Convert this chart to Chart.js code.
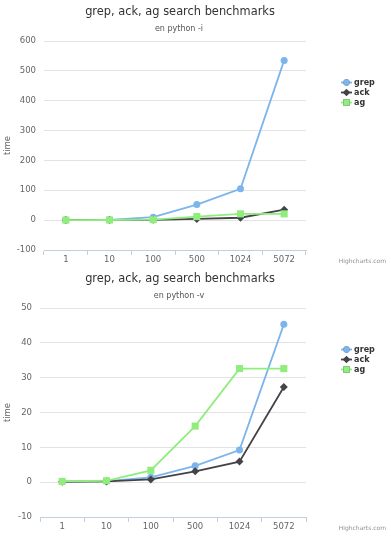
<!DOCTYPE html>
<html>
<head>
<meta charset="utf-8">
<script src="https://cdn.jsdelivr.net/npm/chart.js@4/dist/chart.umd.min.js"></script>
<style>
  html, body { margin: 0; padding: 0; background: #fff; }
  #wrap { position: relative; width: 391px; height: 538px; overflow: hidden; }
  .box { position: absolute; left: 0; width: 391px; }
</style>
</head>
<body>
<div id="wrap">
  <div class="box" style="top:0;height:267px"><canvas id="c1"></canvas></div>
  <div class="box" style="top:267px;height:271px"><canvas id="c2"></canvas></div>
</div>
<script>
// ---- data ----
const categories = ['1', '10', '100', '500', '1024', '5072'];
const seriesNames = ['grep', 'ack', 'ag'];

const titleText = 'grep, ack, ag search benchmarks';
const subtitleI = 'en python -i';
const subtitleV = 'en python -v';

const grepI = [0.5, 1, 10, 52, 105, 535];
const ackI  = [0.3, 0.5, 1, 4, 8, 35];
const agI   = [0.3, 0.5, 1.5, 12, 21, 21];
const yRangeI = [-100, 600, 100];

const grepV = [0.2, 0.3, 1.4, 4.7, 9.2, 45.3];
const ackV  = [0.1, 0.2, 0.8, 3.1, 5.9, 27.3];
const agV   = [0.2, 0.4, 3.4, 16.1, 32.6, 32.6];
const yRangeV = [-10, 50, 10];

// ---- styles ----
const FONT = '"DejaVu Sans", "Lucida Grande", sans-serif';
const colors = ['#7cb5ec', '#434348', '#90ed7d'];
const pointStyles = ['circle', 'rectRot', 'rect'];
const pointRadii = [3.5, 4, 5];

const headerPlugin = {
  id: 'header',
  afterDraw(chart, args, opts) {
    const ctx = chart.ctx;
    ctx.save();
    ctx.textAlign = 'center';
    ctx.textBaseline = 'middle';
    ctx.fillStyle = '#333333';
    ctx.font = '11.4px ' + FONT;
    ctx.fillText(opts.title, 180, 12);
    ctx.fillStyle = '#555555';
    ctx.font = '8px ' + FONT;
    ctx.fillText(opts.subtitle, 179, 28.5);
    // legend
    chart.data.datasets.forEach((ds, i) => {
      const y = 82.5 + i * 10;
      ctx.strokeStyle = ds.borderColor;
      ctx.lineWidth = 1.8;
      ctx.beginPath();
      ctx.moveTo(341, y);
      ctx.lineTo(352, y);
      ctx.stroke();
      Chart.helpers.drawPoint(ctx, {
        pointStyle: ds.pointStyle,
        radius: ds.pointRadius * 0.9,
        borderWidth: 0,
        rotation: 0
      }, 346.5, y);
      ctx.fillStyle = ds.borderColor;
      ctx.fill();
      ctx.fillStyle = '#333333';
      ctx.font = 'bold 8px ' + FONT;
      ctx.textAlign = 'left';
      ctx.fillText(ds.label, 354, y + 0.5);
    });
    // credit
    ctx.textAlign = 'right';
    ctx.fillStyle = '#909090';
    ctx.font = '6px ' + FONT;
    ctx.fillText('Highcharts.com', 386, 261.5);
    ctx.restore();
  }
};

function makeChart(id, series, yRange, subtitle, leftW, bottomH) {
  const datasets = series.map((vals, i) => ({
    label: seriesNames[i],
    data: vals,
    borderColor: colors[i],
    backgroundColor: colors[i],
    pointBackgroundColor: colors[i],
    pointBorderColor: colors[i],
    pointBorderWidth: 0,
    pointStyle: pointStyles[i],
    pointRadius: pointRadii[i],
    borderWidth: 1.8,
    tension: 0,
    order: 3 - i
  }));
  return new Chart(document.getElementById(id), {
    type: 'line',
    data: { labels: categories, datasets },
    options: {
      responsive: true,
      maintainAspectRatio: false,
      animation: false,
      events: [],
      layout: { padding: { top: 41, right: 85, left: 0, bottom: 0 } },
      plugins: {
        legend: { display: false },
        tooltip: { enabled: false },
        header: { title: titleText, subtitle: subtitle }
      },
      scales: {
        x: {
          type: 'category',
          offset: true,
          grid: {
            display: true,
            drawOnChartArea: false,
            offset: true,
            tickLength: 5,
            color: '#C0D0E0',
            lineWidth: 1
          },
          border: { display: true, color: '#C0D0E0', width: 1 },
          ticks: {
            color: '#666666',
            font: { family: FONT, size: 8.5 },
            padding: 0,
            maxRotation: 0,
            autoSkip: false
          },
          afterFit(scale) { scale.height = bottomH; }
        },
        y: {
          min: yRange[0],
          max: yRange[1],
          grid: { color: '#E3E3E3', lineWidth: 1, drawTicks: false },
          border: { display: false },
          ticks: {
            stepSize: yRange[2],
            color: '#666666',
            font: { family: FONT, size: 8.5 },
            padding: 8
          },
          title: {
            display: true,
            text: 'time',
            color: '#666666',
            font: { family: FONT, size: 8.5 },
            padding: { top: 3, bottom: 0 }
          },
          afterFit(scale) { scale.width = leftW; }
        }
      }
    },
    plugins: [headerPlugin]
  });
}

makeChart('c1', [grepI, ackI, agI], yRangeI, subtitleI, 44, 17);
makeChart('c2', [grepV, ackV, agV], yRangeV, subtitleV, 40, 21);
</script>
</body>
</html>
